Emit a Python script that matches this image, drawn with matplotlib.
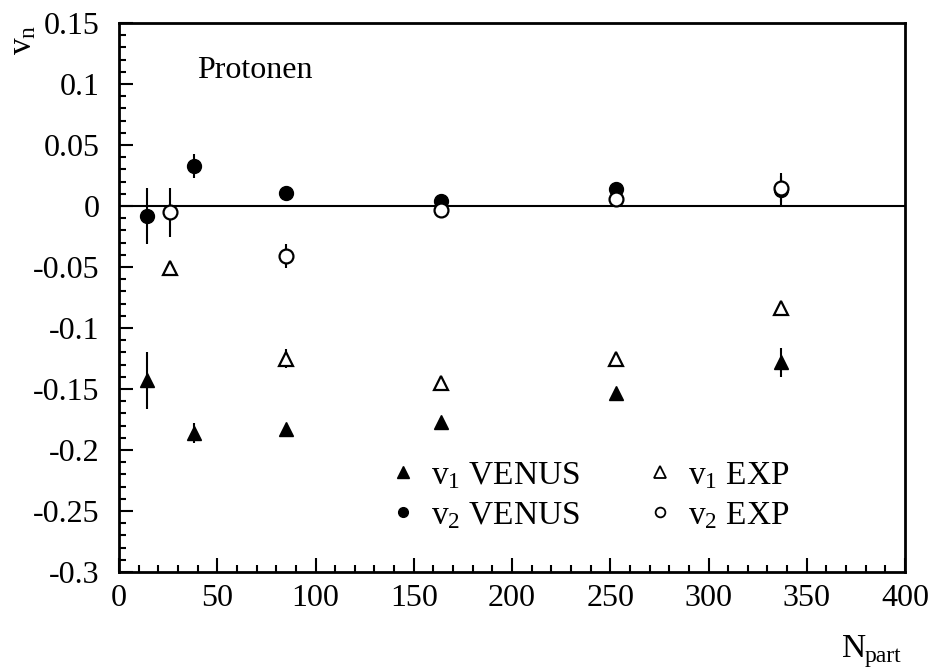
import numpy as np
import matplotlib
matplotlib.use("Agg")
import matplotlib.pyplot as plt
from matplotlib.ticker import MultipleLocator, FuncFormatter
from matplotlib.lines import Line2D

plt.rcParams['font.family'] = ['Liberation Serif', 'DejaVu Serif']
plt.rcParams['mathtext.default'] = 'regular'
plt.rcParams['axes.unicode_minus'] = False

# values
npart_venus = [14, 38, 85, 164, 253, 337]
npart_exp = [26, 85, 164, 253, 337]

v1_venus = [-0.143, -0.186, -0.183, -0.177, -0.153, -0.128]
v1_venus_err = [0.023, 0.008, 0.003, 0.003, 0.003, 0.012]
v2_venus = [-0.008, 0.033, 0.011, 0.004, 0.014, 0.013]
v2_venus_err = [0.023, 0.010, 0.004, 0.003, 0.004, 0.012]

v1_exp = [-0.051, -0.125, -0.145, -0.125, -0.084]
v1_exp_err = [0.006, 0.008, 0.005, 0.004, 0.003]
v2_exp = [-0.005, -0.041, -0.003, 0.006, 0.015]
v2_exp_err = [0.020, 0.010, 0.003, 0.003, 0.012]

W, H = 934, 668
fig = plt.figure(figsize=(W / 100, H / 100), dpi=100)
ax = fig.add_axes([119 / W, 1 - 572 / H, (905 - 119) / W, (572 - 23) / H])

ax.axhline(0, color='black', lw=1.5, zorder=1)

common = dict(ls='none', ecolor='black', elinewidth=1.5, capsize=0, zorder=3)
ax.errorbar(npart_venus, v1_venus, yerr=v1_venus_err, marker='^', ms=10.5,
            mfc='black', mec='black', **common)
ax.errorbar(npart_venus, v2_venus, yerr=v2_venus_err, marker='o', ms=10,
            mfc='black', mec='black', **common)
ax.errorbar(npart_exp, v1_exp, yerr=v1_exp_err, marker='^', ms=10.5, mew=1.6,
            mfc='white', mec='black', **common)
ax.errorbar(npart_exp, v2_exp, yerr=v2_exp_err, marker='o', ms=10, mew=1.6,
            mfc='white', mec='black', **common)

ax.set_xlim(0, 400)
ax.set_ylim(-0.3, 0.15)
ax.xaxis.set_major_locator(MultipleLocator(50))
ax.xaxis.set_minor_locator(MultipleLocator(10))
ax.yaxis.set_major_locator(MultipleLocator(0.05))
ax.yaxis.set_minor_locator(MultipleLocator(0.01))
ax.yaxis.set_major_formatter(FuncFormatter(lambda v, p: '%g' % round(v, 3)))

ax.tick_params(which='both', direction='in', top=False, right=False, width=1.5, labelsize=23)
ax.tick_params(which='major', length=10)
ax.tick_params(which='minor', length=5)
ax.tick_params(axis='y', pad=14)
ax.tick_params(axis='x', pad=9)
for s in ax.spines.values():
    s.set_linewidth(2)

ax.text(0.099, 0.9, 'Protonen', transform=ax.transAxes, fontsize=23, va='baseline')

# axis titles, ROOT style
fig.text(38 / W, 1 - 55 / H, r'$v_n$', rotation=90, ha='right', va='bottom', fontsize=24)
fig.text(842 / W, 1 - 657 / H, 'N', ha='left', va='baseline', fontsize=24)
fig.text(865 / W, 1 - 662 / H, 'part', ha='left', va='baseline', fontsize=17)

# legend, markers only
handles = [
    Line2D([], [], ls='none', marker='^', ms=8, mfc='black', mec='black'),
    Line2D([], [], ls='none', marker='o', ms=7, mfc='black', mec='black'),
    Line2D([], [], ls='none', marker='^', ms=8, mfc='white', mec='black', mew=1.3),
    Line2D([], [], ls='none', marker='o', ms=7, mfc='white', mec='black', mew=1.3),
]
labels = [r'$v_1$ VENUS', r'$v_2$ VENUS', r'$v_1$ EXP', r'$v_2$ EXP']
ax.legend(handles, labels, ncol=2, frameon=False, fontsize=24, loc='upper left',
          bbox_to_anchor=(386 / W, 1 - 460 / H), bbox_transform=fig.transFigure,
          borderpad=0, borderaxespad=0, handlelength=1.0, handletextpad=0.35,
          columnspacing=1.9, labelspacing=0.28)

fig.savefig('out.png', dpi=100)
